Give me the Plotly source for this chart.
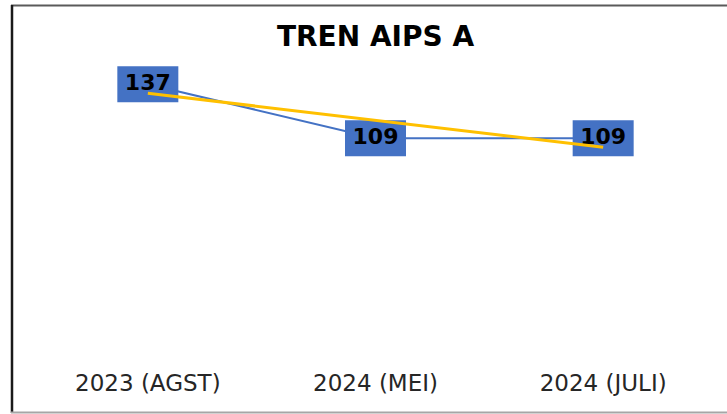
import plotly.graph_objects as go

categories = ["2023 (AGST)", "2024 (MEI)", "2024 (JULI)"]
values = [137, 109, 109]
trend_values = [132.3, 118.3, 104.3]  # linear trendline
title_text = "TREN AIPS A"

BLUE = "#4472C4"
YELLOW = "#FFC000"
FONT = "DejaVu Sans"

W, H = 727, 414
L, R, T, B = 34, 10, 40, 66
PW, PH = W - L - R, H - T - B

def px_x(p):
    return (p - L) / PW

def px_y(p):
    return (H - B - p) / PH

xs = list(range(len(categories)))

fig = go.Figure()

fig.add_trace(go.Scatter(
    x=xs, y=values, mode="lines+text",
    line=dict(color=BLUE, width=2),
    text=[str(v) for v in values], textposition="middle center",
    textfont=dict(family=FONT, size=22, color="black", weight="bold"),
    hoverinfo="skip", showlegend=False, cliponaxis=False,
))
fig.add_trace(go.Scatter(
    x=xs, y=trend_values, mode="lines",
    line=dict(color=YELLOW, width=3),
    hoverinfo="skip", showlegend=False, cliponaxis=False,
))

shapes = []
for xv, yv in zip(xs, values):
    shapes.append(dict(
        type="rect", layer="below", xref="x", yref="y",
        xsizemode="pixel", ysizemode="pixel", xanchor=xv, yanchor=yv,
        x0=-30.5, x1=30.5, y0=-18, y1=18,
        fillcolor=BLUE, line=dict(width=0),
    ))
# chart border
shapes.append(dict(type="line", xref="paper", yref="paper",
                   x0=px_x(11), x1=px_x(760), y0=px_y(5.5), y1=px_y(5.5),
                   line=dict(color="#5a5a5a", width=2)))
shapes.append(dict(type="line", xref="paper", yref="paper",
                   x0=px_x(12), x1=px_x(12), y0=px_y(5), y1=px_y(413),
                   line=dict(color="#1a1a1a", width=2.5)))
shapes.append(dict(type="line", xref="paper", yref="paper",
                   x0=px_x(11), x1=px_x(760), y0=px_y(412.5), y1=px_y(412.5),
                   line=dict(color="#a6a6a6", width=2)))

fig.update_layout(
    width=W, height=H,
    margin=dict(l=L, r=R, t=T, b=B, pad=0),
    paper_bgcolor="white", plot_bgcolor="white",
    title=dict(text="<b>" + title_text + "</b>", x=375.5 / W, xref="container",
               xanchor="center", y=1 - 36 / H, yref="container", yanchor="middle",
               font=dict(family=FONT, size=28, color="black")),
    xaxis=dict(range=[-0.5, 2.5], tickmode="array", tickvals=xs, ticktext=categories,
               showgrid=False, zeroline=False, showline=False, ticks="",
               ticklabelstandoff=19,
               tickfont=dict(family=FONT, size=23, color="#262626")),
    yaxis=dict(range=[0, 160], visible=False, showgrid=False, zeroline=False),
    shapes=shapes,
    showlegend=False,
)

fig.write_html("out.html", config={"displayModeBar": False},
               post_script="document.body.style.margin='0';")
